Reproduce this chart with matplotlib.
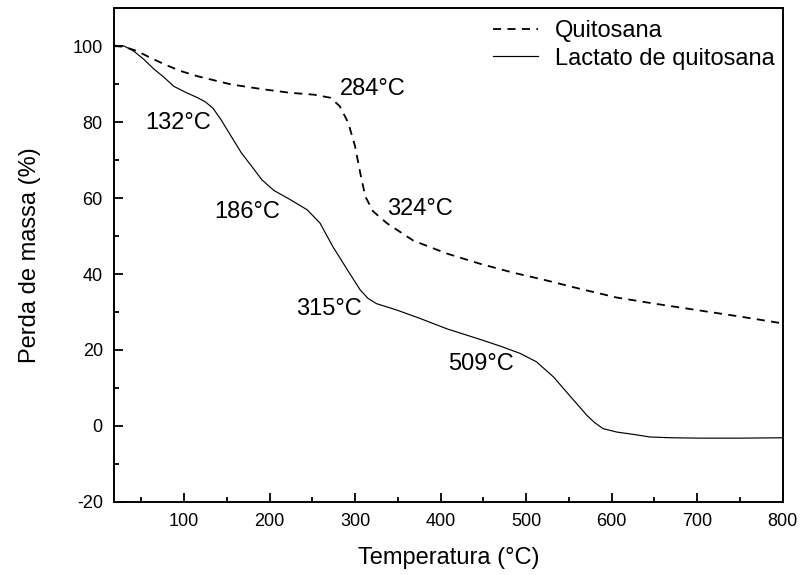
import matplotlib
matplotlib.use('Agg')
import matplotlib.pyplot as plt
from matplotlib.ticker import MultipleLocator

plt.rcParams['font.family'] = ['Liberation Sans', 'DejaVu Sans']
plt.rcParams['axes.unicode_minus'] = False

# Quitosana (dashed)
quit_temp = [18, 30, 45, 60, 77, 95, 115, 135, 155, 193, 224, 252, 271, 282, 292, 300, 306,
             312, 321, 337, 368, 407, 446, 484, 524, 563, 606, 650, 700, 750, 800]
quit_mass = [100, 99.8, 98.7, 97, 95.2, 93.5, 92.1, 91, 89.9, 88.6, 87.7, 87.2, 86.4, 84.2, 79.8, 73.6, 66.6,
             60.4, 56.5, 53.4, 48.8, 45.4, 42.7, 40.4, 38.3, 36.1, 33.8, 32.2, 30.5, 28.8, 27]

# Lactato de quitosana (solid)
lact_temp = [18, 30, 41, 53, 65, 77, 88, 103, 115, 125, 134, 143, 155, 167, 182, 191, 205, 224,
             244, 259, 274, 291, 306, 315, 325, 349, 376, 407, 446, 470, 493, 512, 532, 552, 571,
             580, 590, 606, 625, 645, 670, 703, 750, 800]
lact_mass = [100.2, 100, 98.7, 96.5, 93.9, 91.7, 89.4, 87.7, 86.5, 85.3, 83.6, 80.7, 76.3, 71.9, 67.5, 64.8, 62, 59.6,
             56.9, 53.4, 47.2, 41.1, 35.8, 33.6, 32.2, 30.5, 28.3, 25.6, 22.8, 21.0, 19.1, 16.9, 12.9, 7.7, 2.8,
             0.9, -0.7, -1.6, -2.2, -2.9, -3.1, -3.2, -3.2, -3.1]

peak_labels = ['284°C', '132°C', '186°C', '324°C', '315°C', '509°C']
label_pos = [(321, 88.7), (93, 79.7), (174, 56.3), (376, 57.2), (270, 30.8), (447, 16.4)]

fig = plt.figure(figsize=(8.02, 5.75), dpi=100)
ax = fig.add_axes([0.142, 0.127, 0.834, 0.859])

ax.plot(quit_temp, quit_mass, color='black', lw=1.3, ls=(0, (4.5, 3.5)), label='Quitosana')
ax.plot(lact_temp, lact_mass, color='black', lw=0.85, label='Lactato de quitosana')

for txt, (x, y) in zip(peak_labels, label_pos):
    ax.text(x, y, txt, fontsize=17, ha='center', va='center')

ax.set_xlim(18, 800)
ax.set_ylim(-20, 110)
ax.xaxis.set_major_locator(MultipleLocator(100))
ax.xaxis.set_minor_locator(MultipleLocator(50))
ax.yaxis.set_major_locator(MultipleLocator(20))
ax.yaxis.set_minor_locator(MultipleLocator(10))
ax.tick_params(which='both', direction='in', top=False, right=False, labelsize=13, pad=8, width=1.3)
ax.tick_params(which='major', length=6.5)
ax.tick_params(which='minor', length=3.5)
for s in ax.spines.values():
    s.set_linewidth(1.4)

ax.set_xlabel('Temperatura (°C)', fontsize=17, labelpad=12)
ax.set_ylabel('Perda de massa (%)', fontsize=17, labelpad=23)

ax.legend(loc='upper right', bbox_to_anchor=(1.006, 1.0), frameon=False, fontsize=17,
          handlelength=1.9, handletextpad=0.75, borderaxespad=0.3, borderpad=0.2,
          labelspacing=0.25)

fig.savefig('out.png', dpi=100)
